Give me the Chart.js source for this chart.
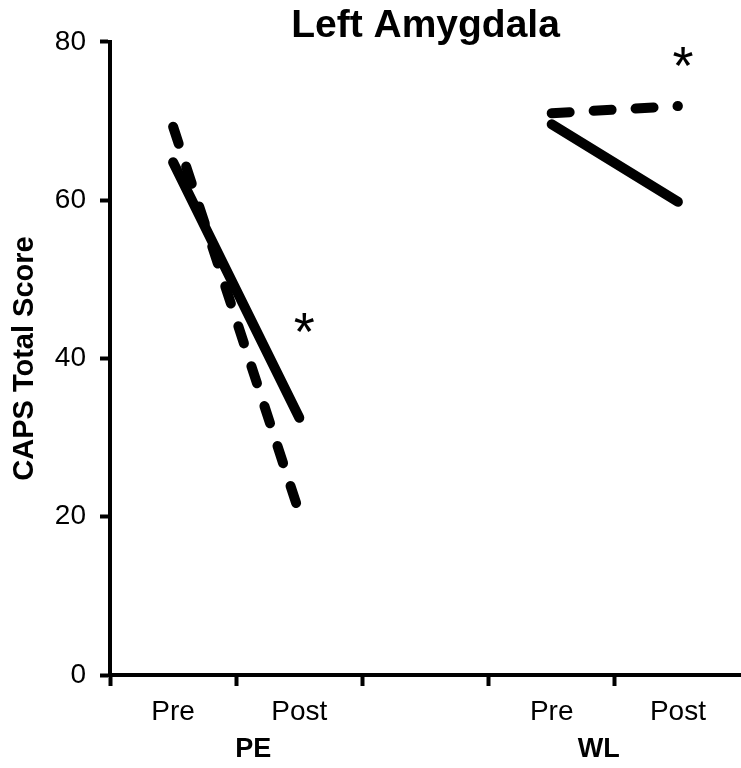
<!DOCTYPE html>
<html>
<head>
<meta charset="utf-8">
<script src="https://cdn.jsdelivr.net/npm/chart.js@4"></script>
<style>
  html, body { margin: 0; padding: 0; background: #fff; }
  #wrap { width: 741px; height: 768px; }
</style>
</head>
<body>
<div id="wrap"><canvas id="myChart" width="741" height="768"></canvas></div>
<script>
const ctx = document.getElementById('myChart');

// x categories (third slot is an empty spacer between the groups)
const categories = ['Pre', 'Post', '', 'Pre', 'Post'];
const groups = ['PE', 'WL'];
const groupCats = [[0, 1], [3, 4]];

// CAPS total score
const peSolid = [64.8, 32.5, null, null, null];
const peDashed = [69.3, 20.5, null, null, null];
const wlSolid = [null, null, null, 69.6, 59.8];
const wlDashed = [null, null, null, 71.0, 71.9];

// significance markers: category index + score level
const starCats = [1, 4];
const starValues = [45.0, 78.7];

const yTicks = [0, 20, 40, 60, 80];

const FONT = '"Liberation Sans", Arial, Helvetica, sans-serif';

const annotate = {
  id: 'annotate',
  afterDraw(chart) {
    const c = chart.ctx;
    const x = chart.scales.x;
    const y = chart.scales.y;
    const centre = (x.left + x.right) / 2;
    c.save();
    c.fillStyle = '#000';
    c.textAlign = 'center';
    c.textBaseline = 'alphabetic';

    // asterisks
    const starSize = 54;
    c.font = starSize + 'px ' + FONT;
    starCats.forEach((cat, i) => {
      c.fillText('*', x.getPixelForValue(cat) + 5, y.getPixelForValue(starValues[i]) + 0.58 * starSize);
    });

    // group labels under the tick labels, nudged toward the plot centre
    c.font = 'bold 27px ' + FONT;
    groupCats.forEach((pair, i) => {
      const mid = (x.getPixelForValue(pair[0]) + x.getPixelForValue(pair[1])) / 2;
      const nudge = mid < centre ? 17 : -16;
      c.fillText(groups[i], mid + nudge, x.bottom - 11);
    });
    c.restore();
  }
};

function lineSet(label, values, dashed) {
  return {
    label: label,
    data: values,
    borderColor: '#000',
    backgroundColor: '#000',
    borderWidth: 10,
    borderCapStyle: 'round',
    borderJoinStyle: 'round',
    borderDash: dashed ? [18, 24] : [],
    pointRadius: 0,
    pointHoverRadius: 0,
    fill: false,
    spanGaps: false,
    tension: 0
  };
}

new Chart(ctx, {
  type: 'line',
  data: {
    labels: categories,
    datasets: [
      lineSet('PE solid', peSolid, false),
      lineSet('PE dashed', peDashed, true),
      lineSet('WL solid', wlSolid, false),
      lineSet('WL dashed', wlDashed, true)
    ]
  },
  options: {
    responsive: false,
    animation: false,
    layout: { padding: 0 },
    plugins: {
      legend: { display: false },
      tooltip: { enabled: false },
      title: {
        display: true,
        fullSize: false,
        text: 'Left Amygdala',
        color: '#000',
        font: { family: FONT, size: 39, weight: 'bold', lineHeight: 0.82 },
        padding: { top: 10, bottom: 0 }
      }
    },
    scales: {
      x: {
        type: 'category',
        offset: true,
        afterFit: (scale) => { scale.height = 93; },
        grid: {
          offset: true,
          drawOnChartArea: false,
          drawTicks: true,
          tickLength: 11,
          tickWidth: 4,
          // hide the closing boundary tick at the right canvas edge
          color: (c) => (c.type === 'tick' ? '#000' : 'rgba(0,0,0,0)')
        },
        border: { display: true, color: '#000', width: 4 },
        ticks: {
          color: '#000',
          padding: 9,
          maxRotation: 0,
          autoSkip: false,
          font: { family: FONT, size: 28 }
        }
      },
      y: {
        min: 0,
        max: 80,
        afterFit: (scale) => { scale.width = 110; },
        afterBuildTicks: (scale) => { scale.ticks = yTicks.map(v => ({ value: v })); },
        grid: {
          drawOnChartArea: false,
          drawTicks: true,
          tickLength: 10,
          tickWidth: 4,
          color: '#000'
        },
        border: { display: true, color: '#000', width: 4 },
        ticks: {
          color: '#000',
          padding: 14,
          font: { family: FONT, size: 28 }
        },
        title: {
          display: true,
          text: 'CAPS Total Score',
          color: '#000',
          padding: { top: 8, bottom: 0 },
          font: { family: FONT, size: 29, weight: 'bold' }
        }
      }
    }
  },
  plugins: [annotate]
});
</script>
</body>
</html>
